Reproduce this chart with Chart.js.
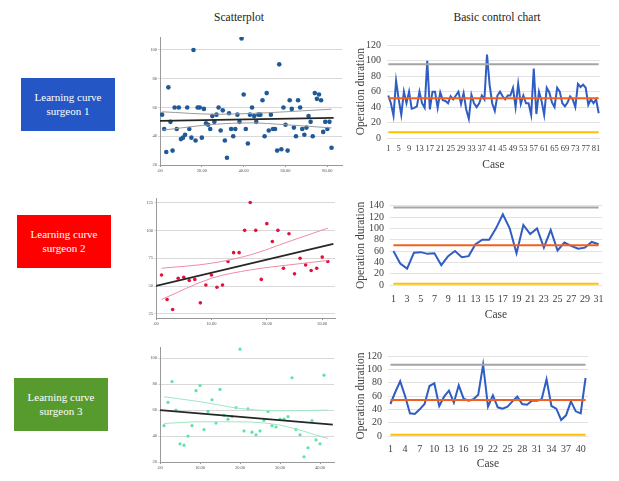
<!DOCTYPE html>
<html><head><meta charset="utf-8">
<script src="https://cdn.jsdelivr.net/npm/chart.js@4.4.0/dist/chart.umd.min.js"></script>
<style>
html,body{margin:0;padding:0;background:#fff;width:619px;height:481px;overflow:hidden;position:relative;font-family:"Liberation Serif","DejaVu Serif",serif;}
canvas{position:absolute;}
.hdr{position:absolute;font-size:11.5px;color:#222;white-space:nowrap;transform:translateX(-50%);}
.box{position:absolute;width:94px;height:53px;color:#fff;font-size:11px;line-height:13.5px;display:flex;align-items:center;justify-content:center;text-align:center;}
</style></head><body>
<div class="hdr" style="left:239px;top:11px">Scatterplot</div>
<div class="hdr" style="left:497px;top:11px">Basic control chart</div>
<div class="box" style="left:21px;top:78px;background:#2457C5">Learning curve<br>surgeon 1</div>
<div class="box" style="left:17px;top:215px;background:#FF0000">Learning curve<br>surgeon 2</div>
<div class="box" style="left:14px;top:378px;background:#579B2F">Learning curve<br>surgeon 3</div>
<canvas id="s1" width="210" height="150" style="left:140px;top:30px"></canvas>
<canvas id="s2" width="210" height="140" style="left:136px;top:190px"></canvas>
<canvas id="s3" width="205" height="135" style="left:140px;top:340px"></canvas>
<canvas id="c1" width="262" height="146" style="left:350px;top:30px"></canvas>
<canvas id="c2" width="262" height="136" style="left:350px;top:190px"></canvas>
<canvas id="c3" width="262" height="135" style="left:350px;top:340px"></canvas>
<script>
// ---- data (operation duration per case) ----
const surgeon1Duration = [55,45,29,74,50,30,60,45,60,38, 39,41,60,45,39,100,37,60,60,39,
  59,49,48,45,54,50,55,60,44,58, 37,25,56,45,40,45,55,50,108,69,
  45,35,55,60,54,50,55,55,65,40, 70,44,55,45,45,30,90,31,60,48,
  30,65,59,46,40,65,60,45,41,46, 54,50,40,70,66,69,65,43,50,45, 50,32];
const surgeon2Duration = [60,38,29,57,58,55,56,35,51,60, 49,51,72,80,80,100,125,100,56,106,
  90,100,66,97,61,75,69,64,66,76, 72];
const surgeon3Duration = [48,66,82,60,34,33,40,48,75,79, 45,59,68,50,76,56,53,55,62,107,
  44,61,43,41,44,52,59,48,47,53, 53,55,85,45,41,24,31,52,37,34, 87];

// control limits
const surgeon1Mean = 51.5, surgeon1UCL = 95.5, surgeon1LCL = 7.5;
const surgeon2Mean = 70, surgeon2UCL = 137, surgeon2LCL = 2;
const surgeon3Mean = 54, surgeon3UCL = 107, surgeon3LCL = 2;

// scatterplot fit line and confidence band
const fit1X = [0, 83],   fit1Y = [50.7, 52.8];
const ci1X = [1, 27, 43, 60, 82], ci1Upper = [57, 55.3, 55.8, 57, 58.8], ci1Lower = [44.2, 48.4, 49.3, 48, 45.8];
const fit2X = [0, 32],   fit2Y = [50.1, 87.9];
const ci2X = [1, 10, 17, 24, 31], ci2Upper = [66, 70.5, 78, 90, 102], ci2Lower = [38, 57, 64.5, 69, 73];
const fit3X = [0, 43.2], fit3Y = [60, 48.9];
const ci3X = [1, 10, 20, 30, 42], ci3Upper = [70.3, 66.5, 61.3, 59.5, 60], ci3Lower = [49.7, 51, 51, 48.4, 38.1];

// tick labels
const scatter1YTicks = [20,40,60,80,100];
const scatter2YTicks = [25,50,75,100,125];
const scatter3YTicks = [20,40,60,80,100];
const scatter1XTicks = [0,20,40,60,80];
const scatter2XTicks = [0,10,20,30];
const scatter3XTicks = [0,10,20,30,40];

const FONT = '"Liberation Serif", "DejaVu Serif", serif';
Chart.defaults.animation = false;
Chart.defaults.font.family = FONT;

const pts = (xs, ys) => xs.map((x, i) => ({x, y: ys[i]}));
const casePts = vals => vals.map((v, i) => ({x: i + 1, y: v}));
const fmtX = v => v === 0 ? '.00' : v.toFixed(2);

function scatterChart(id, vals, fitX, fitY, ciX, ciU, ciL, color, ciColor, radius, yTicks, xTicks, xMin, xMax, yMin, yMax, pad, xH) {
  new Chart(document.getElementById(id), {
    type: 'scatter',
    data: { datasets: [
      { type: 'line', data: pts(fitX, fitY), borderColor: '#262626', borderWidth: 1.8, pointRadius: 0, order: 0 },
      { type: 'line', data: pts(ciX, ciU), borderColor: ciColor, borderWidth: 1, pointRadius: 0, cubicInterpolationMode: 'monotone', order: 1 },
      { type: 'line', data: pts(ciX, ciL), borderColor: ciColor, borderWidth: 1, pointRadius: 0, cubicInterpolationMode: 'monotone', order: 1 },
      { data: casePts(vals), backgroundColor: color, borderColor: color, pointRadius: radius, borderWidth: 0, order: 2 }
    ]},
    options: {
      responsive: false,
      layout: { padding: pad },
      plugins: { legend: { display: false }, tooltip: { enabled: false } },
      scales: {
        x: { type: 'linear', min: xMin, max: xMax,
          afterBuildTicks: a => { a.ticks = xTicks.map(v => ({value: v})); },
          afterFit: s => { s.height = xH; },
          grid: { drawOnChartArea: false, drawTicks: true, tickLength: 2, color: '#999' },
          border: { color: '#999', width: 1 },
          ticks: { font: { family: FONT, size: 4.5 }, color: '#555', padding: 1, maxRotation: 0, autoSkip: false, callback: v => fmtX(v) } },
        y: { min: yMin, max: yMax,
          afterBuildTicks: a => { a.ticks = yTicks.map(v => ({value: v})); },
          afterFit: s => { s.width = pad.yW; },
          grid: { color: '#d9d9d9', drawTicks: true, tickLength: 2 },
          border: { color: '#999', width: 1 },
          ticks: { font: { family: FONT, size: 4.5 }, color: '#555', padding: 1, autoSkip: false, callback: v => String(v) } }
      }
    }
  });
}

scatterChart('s1', surgeon1Duration, fit1X, fit1Y, ci1X, ci1Upper, ci1Lower, '#1F5A96', '#9a9a9a', 2.3,
  scatter1YTicks, scatter1XTicks, 0, 87, 20, 109, {top: 7, right: 8, left: 0, bottom: 0, yW: 20}, 15);
scatterChart('s2', surgeon2Duration, fit2X, fit2Y, ci2X, ci2Upper, ci2Lower, '#E2123C', '#F08BA6', 1.8,
  scatter2YTicks, scatter2XTicks, 0, 32.3, 21.4, 129, {top: 8, right: 11, left: 0, bottom: 0, yW: 20}, 12);
scatterChart('s3', surgeon3Duration, fit3X, fit3Y, ci3X, ci3Upper, ci3Lower, '#5FE3A4', '#A2E6C4', 1.6,
  scatter3YTicks, scatter3XTicks, 0, 43.5, 20, 108.7, {top: 7, right: 11, left: 0, bottom: 0, yW: 20}, 13);

function controlChart(id, vals, mean, ucl, lcl, yMax, labelStep, xFont, yW, padTop, padRight, xH, xPad) {
  const labels = vals.map((v, i) => String(i + 1));
  const flat = c => vals.map(() => c);
  new Chart(document.getElementById(id), {
    type: 'line',
    data: { labels, datasets: [
      { data: vals, borderColor: '#2F5DC4', borderWidth: 2, pointRadius: 0, tension: 0, order: 1 },
      { data: flat(mean), borderColor: '#F2601F', borderWidth: 2, pointRadius: 0, order: 0 },
      { data: flat(ucl), borderColor: '#A5A5A5', borderWidth: 2, pointRadius: 0, order: 0 },
      { data: flat(lcl), borderColor: '#FFC000', borderWidth: 2, pointRadius: 0, order: 0 }
    ]},
    options: {
      responsive: false,
      layout: { padding: { top: padTop, right: padRight, left: 0, bottom: 0 } },
      plugins: { legend: { display: false }, tooltip: { enabled: false } },
      scales: {
        x: { offset: true,
          afterFit: s => { s.height = xH; },
          grid: { display: false },
          border: { display: false },
          ticks: { autoSkip: false, maxRotation: 0, font: { family: FONT, size: xFont }, color: '#404040', padding: xPad,
            callback: (v, i) => i % labelStep === 0 ? labels[i] : '' },
          title: { display: true, text: 'Case', font: { family: FONT, size: 11.5 }, color: '#404040', padding: { top: 4, bottom: 4 } } },
        y: { min: 0, max: yMax,
          afterFit: s => { s.width = yW; },
          grid: { color: '#e3e3e3', drawTicks: false },
          border: { display: false },
          ticks: { stepSize: 20, autoSkip: false, font: { family: FONT, size: 10 }, color: '#404040', padding: 6 },
          title: { display: true, text: 'Operation duration', font: { family: FONT, size: 11.5 }, color: '#404040', padding: { top: 4, bottom: 4 } } }
      }
    }
  });
}

controlChart('c1', surgeon1Duration, surgeon1Mean, surgeon1UCL, surgeon1LCL, 120, 4, 8.5, 37, 15.3, 12, 38, -2);
controlChart('c2', surgeon2Duration, surgeon2Mean, surgeon2UCL, surgeon2LCL, 140, 2, 10, 40, 15.7, 10, 41, 0);
controlChart('c3', surgeon3Duration, surgeon3Mean, surgeon3UCL, surgeon3LCL, 120, 3, 10, 38, 16, 24, 39, -1);
</script>
</body></html>
